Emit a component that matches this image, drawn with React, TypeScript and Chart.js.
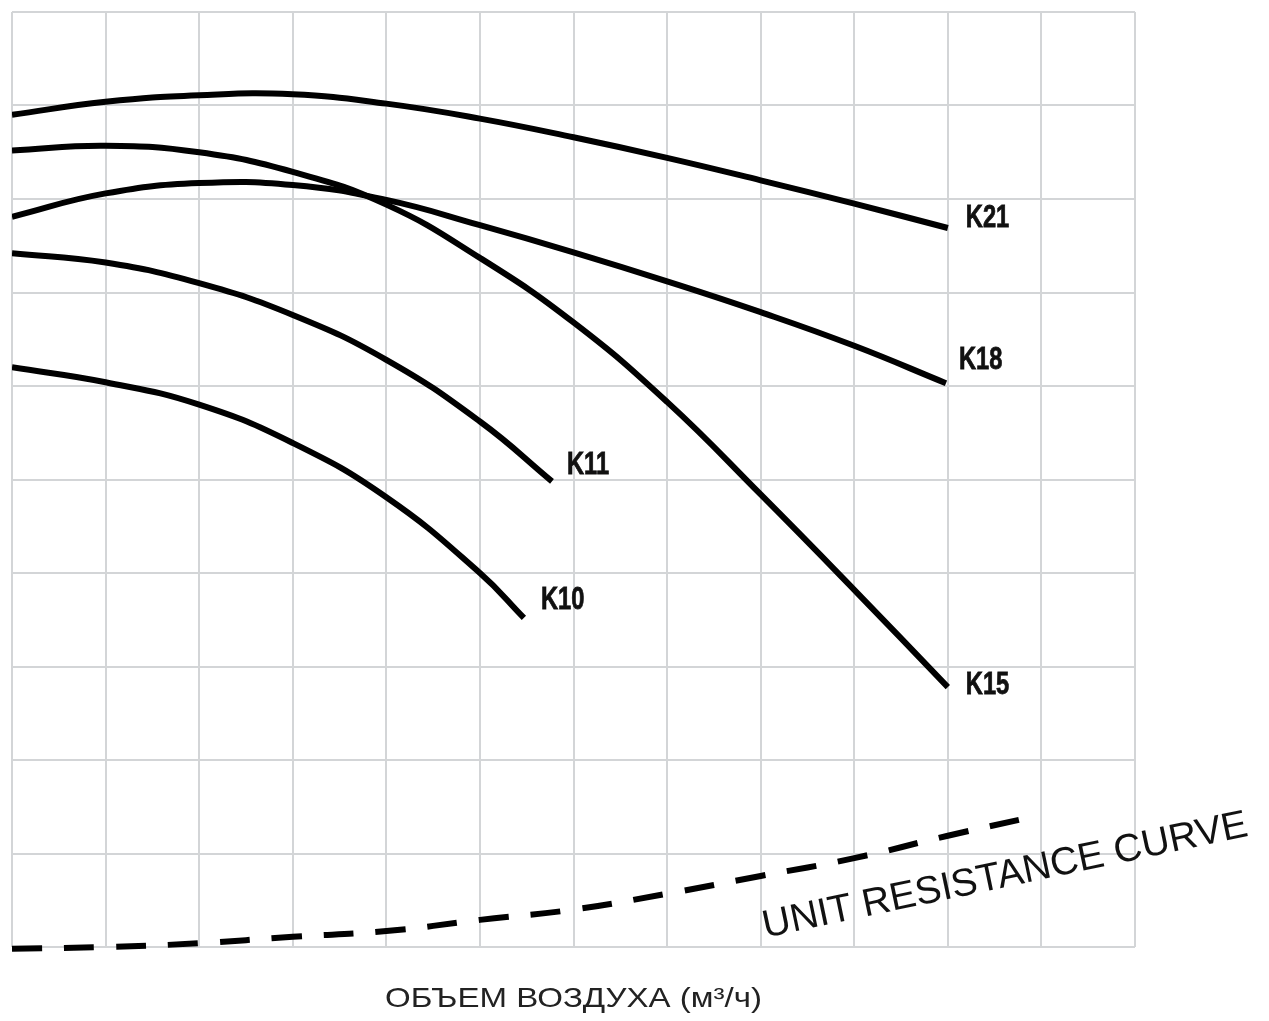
import React, { useEffect, useRef } from "react";
import { Chart, registerables } from "chart.js";

Chart.register(...registerables);

// Air volume (x, grid units) and pressure (y, grid units)
const xK21 = [0, 1, 2, 3, 4, 5, 6, 7, 8, 9, 10];
const yK21 = [8.9, 9.04, 9.11, 9.12, 9.02, 8.86, 8.66, 8.44, 8.2, 7.95, 7.69];

const xK18 = [0, 1, 2, 3, 4, 5, 6, 7, 8, 9, 9.98];
const yK18 = [7.81, 8.06, 8.17, 8.15, 7.99, 7.72, 7.43, 7.12, 6.79, 6.43, 6.03];

const xK15 = [0, 1, 2, 3, 4, 5, 6, 7, 8, 9, 10];
const yK15 = [8.52, 8.57, 8.5, 8.29, 7.94, 7.37, 6.68, 5.83, 4.84, 3.82, 2.78];

const xK11 = [0, 1, 2, 3, 4, 5, 5.77];
const yK11 = [7.42, 7.32, 7.1, 6.76, 6.28, 5.62, 4.98];

const xK10 = [0, 1, 2, 3, 4, 5, 5.47];
const yK10 = [6.2, 6.04, 5.8, 5.39, 4.81, 4.0, 3.52];

const xUnit = [0, 1, 2, 3, 4, 5, 6, 7, 8, 9, 10, 10.85];
const yUnit = [-0.02, 0.0, 0.04, 0.11, 0.17, 0.29, 0.4, 0.57, 0.76, 0.95, 1.19, 1.38];

const curveNames = ["K21", "K18", "K15", "K11", "K10"];
const xAxisTitle = "ОБЪЕМ ВОЗДУХА (м³/ч)";
const unitCurveLabel = "UNIT RESISTANCE CURVE";

const xMax = 12;
const yMax = 10;

// label offsets (px) from each curve's last point
const labelOffsets: Record<string, [number, number]> = {
  K21: [18, -10],
  K18: [13, -23],
  K15: [18, -2],
  K11: [15, -16],
  K10: [17, -18],
};

const toPoints = (xs: number[], ys: number[]) => xs.map((x, i) => ({ x, y: ys[i] }));

const textPlugin = {
  id: "textPlugin",
  afterDatasetsDraw(chart: any) {
    const { ctx, scales, chartArea } = chart;
    const sx = scales.x;
    const sy = scales.y;
    ctx.save();
    // curve labels
    chart.data.datasets.forEach((ds: any) => {
      if (!curveNames.includes(ds.label)) return;
      const last = ds.data[ds.data.length - 1];
      const off = labelOffsets[ds.label] || [15, 0];
      const px = sx.getPixelForValue(last.x) + off[0];
      const py = sy.getPixelForValue(last.y) + off[1];
      ctx.save();
      ctx.translate(px, py);
      ctx.scale(0.74, 1);
      ctx.font = "bold 32px 'Liberation Sans', Arial, sans-serif";
      ctx.fillStyle = "#111";
      ctx.strokeStyle = "#111";
      ctx.lineWidth = 0.8;
      ctx.textAlign = "left";
      ctx.textBaseline = "middle";
      ctx.fillText(ds.label, 0, 0);
      ctx.strokeText(ds.label, 0, 0);
      ctx.restore();
    });
    // unit resistance curve text
    ctx.save();
    ctx.translate(sx.getPixelForValue(8.05), sy.getPixelForValue(0.1));
    ctx.rotate((-11.9 * Math.PI) / 180);
    ctx.font = "39px 'Liberation Sans', Arial, sans-serif";
    ctx.fillStyle = "#111";
    ctx.textAlign = "left";
    ctx.textBaseline = "alphabetic";
    ctx.fillText(unitCurveLabel, 0, 0);
    ctx.restore();
    // x axis title
    ctx.save();
    const cx = (chartArea.left + chartArea.right) / 2;
    ctx.translate(cx, chartArea.bottom + 60);
    ctx.scale(1.18, 1);
    ctx.font = "28px 'Liberation Sans', Arial, sans-serif";
    ctx.fillStyle = "#222";
    ctx.textAlign = "center";
    ctx.textBaseline = "alphabetic";
    ctx.fillText(xAxisTitle, 0, 0);
    ctx.restore();
    ctx.restore();
  },
};

export default function App() {
  const canvasRef = useRef<HTMLCanvasElement | null>(null);

  useEffect(() => {
    if (!canvasRef.current) return;
    const solid = (label: string, xs: number[], ys: number[]) => ({
      label,
      data: toPoints(xs, ys),
      borderColor: "#000",
      borderWidth: 6,
      borderCapStyle: "butt",
      pointRadius: 0,
      tension: 0.45,
      fill: false,
    });
    const chart = new Chart(canvasRef.current, {
      type: "line",
      data: {
        datasets: [
          solid("K21", xK21, yK21),
          solid("K18", xK18, yK18),
          solid("K15", xK15, yK15),
          solid("K11", xK11, yK11),
          solid("K10", xK10, yK10),
          {
            label: "Unit",
            data: toPoints(xUnit, yUnit),
            borderColor: "#000",
            borderWidth: 6,
            borderDash: [30, 22],
            borderCapStyle: "butt",
            pointRadius: 0,
            tension: 0.45,
            fill: false,
            clip: false,
          } as any,
        ],
      },
      options: {
        animation: false,
        responsive: false,
        layout: { padding: { left: 12, top: 12, right: 134, bottom: 74 } },
        plugins: {
          legend: { display: false },
          tooltip: { enabled: false },
          title: { display: false },
        },
        scales: {
          x: {
            type: "linear",
            min: 0,
            max: xMax,
            ticks: { display: false, stepSize: 1 },
            grid: { color: "#d3d5d7", lineWidth: 2, drawTicks: false },
            border: { display: false },
          },
          y: {
            type: "linear",
            min: 0,
            max: yMax,
            ticks: { display: false, stepSize: 1 },
            grid: { color: "#d3d5d7", lineWidth: 2, drawTicks: false },
            border: { display: false },
          },
        },
      } as any,
      plugins: [textPlugin],
    });
    return () => chart.destroy();
  }, []);

  return (
    <div
      style={{
        position: "fixed",
        left: 0,
        top: 0,
        width: 1269,
        height: 1021,
        background: "#fff",
      }}
    >
      <canvas ref={canvasRef} width={1269} height={1021} />
    </div>
  );
}
